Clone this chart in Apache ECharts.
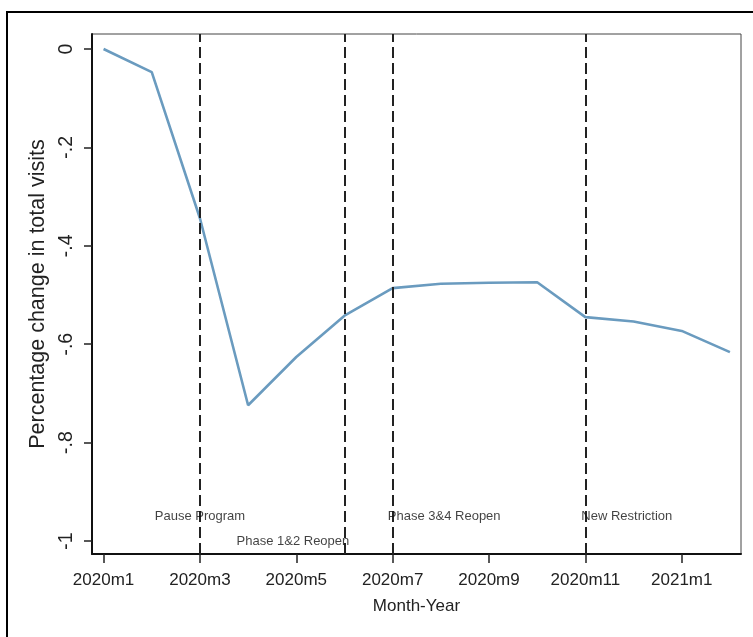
<!DOCTYPE html>
<html>
<head>
<meta charset="utf-8">
<script src="https://cdn.jsdelivr.net/npm/echarts@6/dist/echarts.min.js"></script>
<style>html,body{margin:0;padding:0;background:#fff;}#chart{width:753px;height:637px;}</style>
</head>
<body>
<div id="chart"></div>
<script>
const months = ['2020m1','2020m2','2020m3','2020m4','2020m5','2020m6','2020m7','2020m8','2020m9','2020m10','2020m11','2020m12','2021m1','2021m2'];
const visits = [0, -0.047, -0.344, -0.724, -0.626, -0.542, -0.486, -0.477, -0.475, -0.474, -0.545, -0.554, -0.573, -0.616];
const xTickIdx = [0, 2, 4, 6, 8, 10, 12];
const yTicks = [0, -0.2, -0.4, -0.6, -0.8, -1];
const yTickLabels = ['0', '-.2', '-.4', '-.6', '-.8', '-1'];
const eventIdx = [2, 5, 6, 10];
const eventLabels = ['Pause Program', 'Phase 1&2 Reopen', 'Phase 3&4 Reopen', 'New Restriction'];
const eventLabelX = [2.0, 3.93, 7.07, 10.86];
const eventLabelY = [-0.951, -1.0, -0.951, -0.951];

const FONT = "'Liberation Sans', Arial, sans-serif";
const chart = echarts.init(document.getElementById('chart'));
chart.setOption({
  animation: false,
  backgroundColor: '#fff',
  textStyle: { fontFamily: FONT },
  graphic: [{
    type: 'rect', z: -10, silent: true,
    shape: { x: 7, y: 12, width: 800, height: 700 },
    style: { fill: 'none', stroke: '#000', lineWidth: 2 }
  }],
  grid: { left: 92, top: 34, right: 12, bottom: 83, show: true, borderColor: '#444', borderWidth: 1, backgroundColor: 'transparent' },
  xAxis: {
    type: 'value', min: -0.24, max: 13.23,
    name: 'Month-Year', nameLocation: 'middle', nameGap: 44,
    nameTextStyle: { fontSize: 17, color: '#222', fontFamily: FONT },
    axisLine: { show: true, onZero: false, lineStyle: { color: '#111', width: 2 } },
    axisTick: { show: true, length: 9, customValues: xTickIdx, lineStyle: { color: '#222', width: 1.5 } },
    axisLabel: { customValues: xTickIdx, formatter: v => months[Math.round(v)], fontSize: 17, color: '#222', margin: 18, fontFamily: FONT },
    splitLine: { show: false }
  },
  yAxis: {
    type: 'value', min: -1.0264, max: 0.0305,
    name: 'Percentage change in total visits', nameLocation: 'middle', nameGap: 42,
    nameTextStyle: { fontSize: 21.5, color: '#222', fontFamily: FONT },
    axisLine: { show: true, onZero: false, lineStyle: { color: '#111', width: 2 } },
    axisTick: { show: true, length: 8, customValues: yTicks, lineStyle: { color: '#222', width: 1.5 } },
    axisLabel: {
      customValues: yTicks, rotate: 90, fontSize: 19.5, color: '#222', margin: 15, fontFamily: FONT,
      formatter: v => { const i = yTicks.findIndex(t => Math.abs(t - v) < 1e-6); return i >= 0 ? yTickLabels[i] : ''; }
    },
    splitLine: { show: false }
  },
  series: [{
    type: 'line',
    data: visits.map((v, i) => [i, v]),
    showSymbol: false, symbol: 'none',
    lineStyle: { color: '#6a9bbf', width: 2.6 },
    z: 3,
    markLine: {
      silent: true, symbol: 'none',
      label: { show: false },
      lineStyle: { color: '#222', width: 2, type: [11, 5] },
      data: eventIdx.map(i => ({ xAxis: i }))
    }
  }, {
    type: 'scatter',
    silent: true,
    symbolSize: 1,
    itemStyle: { color: 'rgba(0,0,0,0)' },
    z: 5,
    label: { show: true, position: 'inside', formatter: '{b}', fontSize: 13, color: '#111', fontFamily: FONT },
    data: eventLabels.map((n, i) => ({ name: n, value: [eventLabelX[i], eventLabelY[i]] }))
  }]
});
</script>
</body>
</html>
